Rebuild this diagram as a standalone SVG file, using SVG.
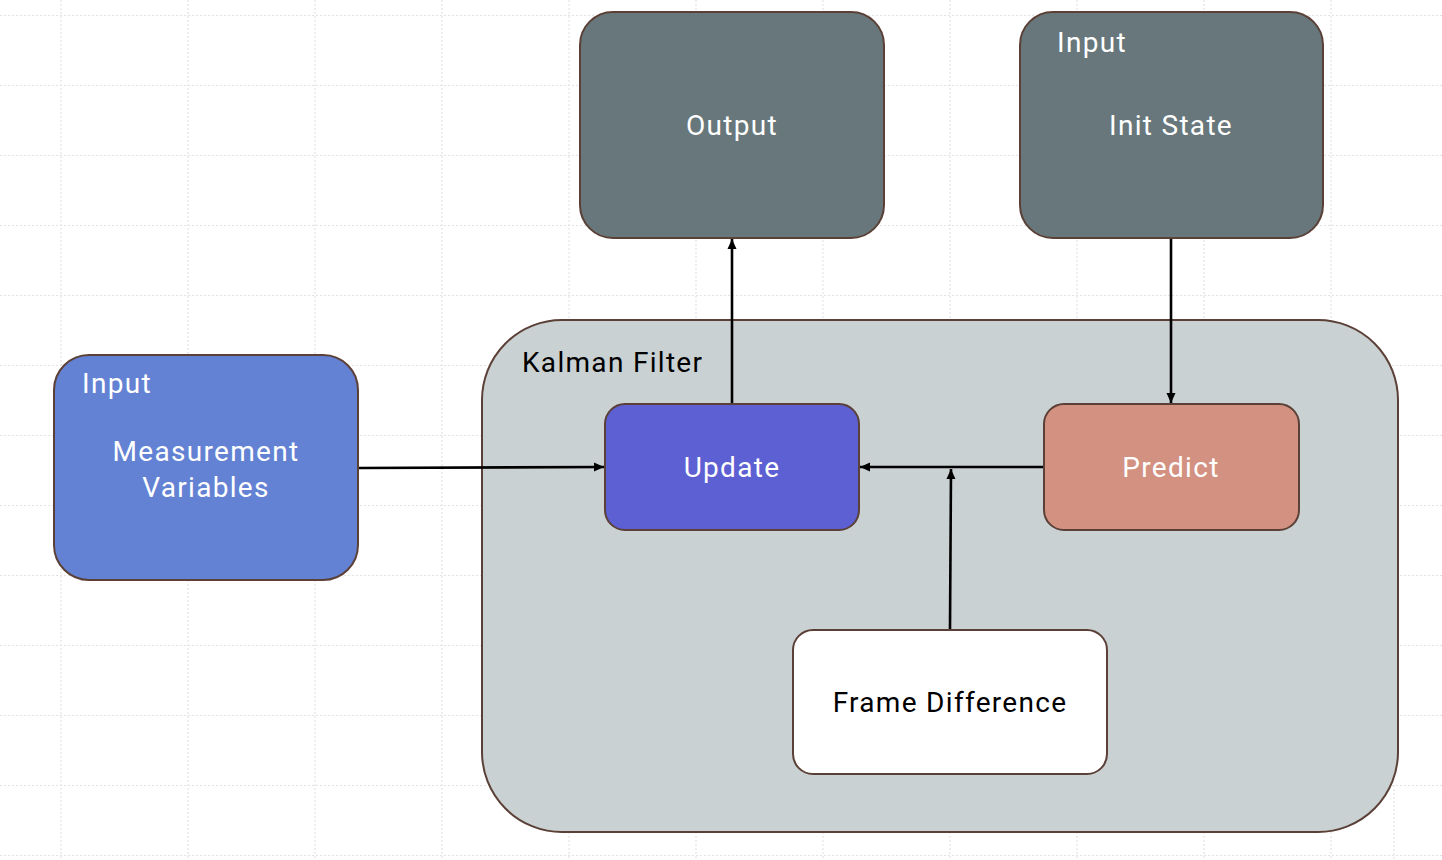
<svg xmlns="http://www.w3.org/2000/svg" width="1442" height="860" viewBox="0 0 1442 860">
<defs>
<style>
.grid line{stroke:#e3e3e3;stroke-width:1.2;stroke-dasharray:2 2}
.box{stroke:#5b4037;stroke-width:2}
.t{font-family:Roboto,"Liberation Sans",sans-serif;font-size:28px;letter-spacing:1.3px}
.w{fill:#ffffff}
.k{fill:#000000}
.conn line{stroke:#000;stroke-width:2.6;fill:none}
</style>
<marker id="ah" viewBox="0 0 10 10" refX="10" refY="5" markerWidth="10" markerHeight="10" markerUnits="userSpaceOnUse" orient="auto">
<path d="M0,0.5 L10,5 L0,9.5 Z" fill="#000"/>
</marker>
</defs>
<rect width="1442" height="860" fill="#ffffff"/>
<g class="grid">
<line x1="0" y1="15.5" x2="1442" y2="15.5"/>
<line x1="0" y1="85.5" x2="1442" y2="85.5"/>
<line x1="0" y1="155.5" x2="1442" y2="155.5"/>
<line x1="0" y1="225.5" x2="1442" y2="225.5"/>
<line x1="0" y1="295.5" x2="1442" y2="295.5"/>
<line x1="0" y1="365.5" x2="1442" y2="365.5"/>
<line x1="0" y1="435.5" x2="1442" y2="435.5"/>
<line x1="0" y1="505.5" x2="1442" y2="505.5"/>
<line x1="0" y1="575.5" x2="1442" y2="575.5"/>
<line x1="0" y1="645.5" x2="1442" y2="645.5"/>
<line x1="0" y1="715.5" x2="1442" y2="715.5"/>
<line x1="0" y1="785.5" x2="1442" y2="785.5"/>
<line x1="0" y1="855.5" x2="1442" y2="855.5"/>
<line x1="61" y1="0" x2="61" y2="860"/>
<line x1="188" y1="0" x2="188" y2="860"/>
<line x1="315" y1="0" x2="315" y2="860"/>
<line x1="442" y1="0" x2="442" y2="860"/>
<line x1="569" y1="0" x2="569" y2="860"/>
<line x1="696" y1="0" x2="696" y2="860"/>
<line x1="823" y1="0" x2="823" y2="860"/>
<line x1="950" y1="0" x2="950" y2="860"/>
<line x1="1077" y1="0" x2="1077" y2="860"/>
<line x1="1204" y1="0" x2="1204" y2="860"/>
<line x1="1331" y1="0" x2="1331" y2="860"/>
<line x1="1394" y1="785" x2="1394" y2="860"/>
</g>
<g id="kalman-filter">
<rect class="box" x="482" y="320" width="916" height="512" rx="80" ry="80" fill="#c9d1d3"/>
<text class="t k" x="522" y="372">Kalman Filter</text>
</g>
<g id="measurement">
<rect class="box" x="54" y="355" width="304" height="225" rx="35" ry="35" fill="#6382d3"/>
<text class="t w" x="82" y="393">Input</text>
<text class="t w" x="206" y="461" text-anchor="middle">Measurement</text>
<text class="t w" x="206" y="497" text-anchor="middle">Variables</text>
</g>
<g id="output">
<rect class="box" x="580" y="12" width="304" height="226" rx="33" ry="33" fill="#67777b"/>
<text class="t w" x="732" y="135" text-anchor="middle">Output</text>
</g>
<g id="init-state">
<rect class="box" x="1020" y="12" width="303" height="226" rx="33" ry="33" fill="#67777b"/>
<text class="t w" x="1057" y="52">Input</text>
<text class="t w" x="1171" y="135" text-anchor="middle">Init State</text>
</g>
<g id="update">
<rect class="box" x="605" y="404" width="254" height="126" rx="20" ry="20" fill="#5c60d3"/>
<text class="t w" x="732" y="477" text-anchor="middle">Update</text>
</g>
<g id="predict">
<rect class="box" x="1044" y="404" width="255" height="126" rx="20" ry="20" fill="#d39182"/>
<text class="t w" x="1171" y="477" text-anchor="middle">Predict</text>
</g>
<g id="frame-difference">
<rect class="box" x="793" y="630" width="314" height="144" rx="20" ry="20" fill="#ffffff"/>
<text class="t k" x="950" y="712" text-anchor="middle">Frame Difference</text>
</g>
<g class="conn" id="connectors">
<line x1="359" y1="468" x2="604" y2="467" marker-end="url(#ah)"/>
<line x1="732" y1="403" x2="732" y2="239" marker-end="url(#ah)"/>
<line x1="1171" y1="239" x2="1171" y2="403" marker-end="url(#ah)"/>
<line x1="1043" y1="467" x2="860" y2="467" marker-end="url(#ah)"/>
<line x1="950" y1="629" x2="951" y2="469" marker-end="url(#ah)"/>
</g>
</svg>
